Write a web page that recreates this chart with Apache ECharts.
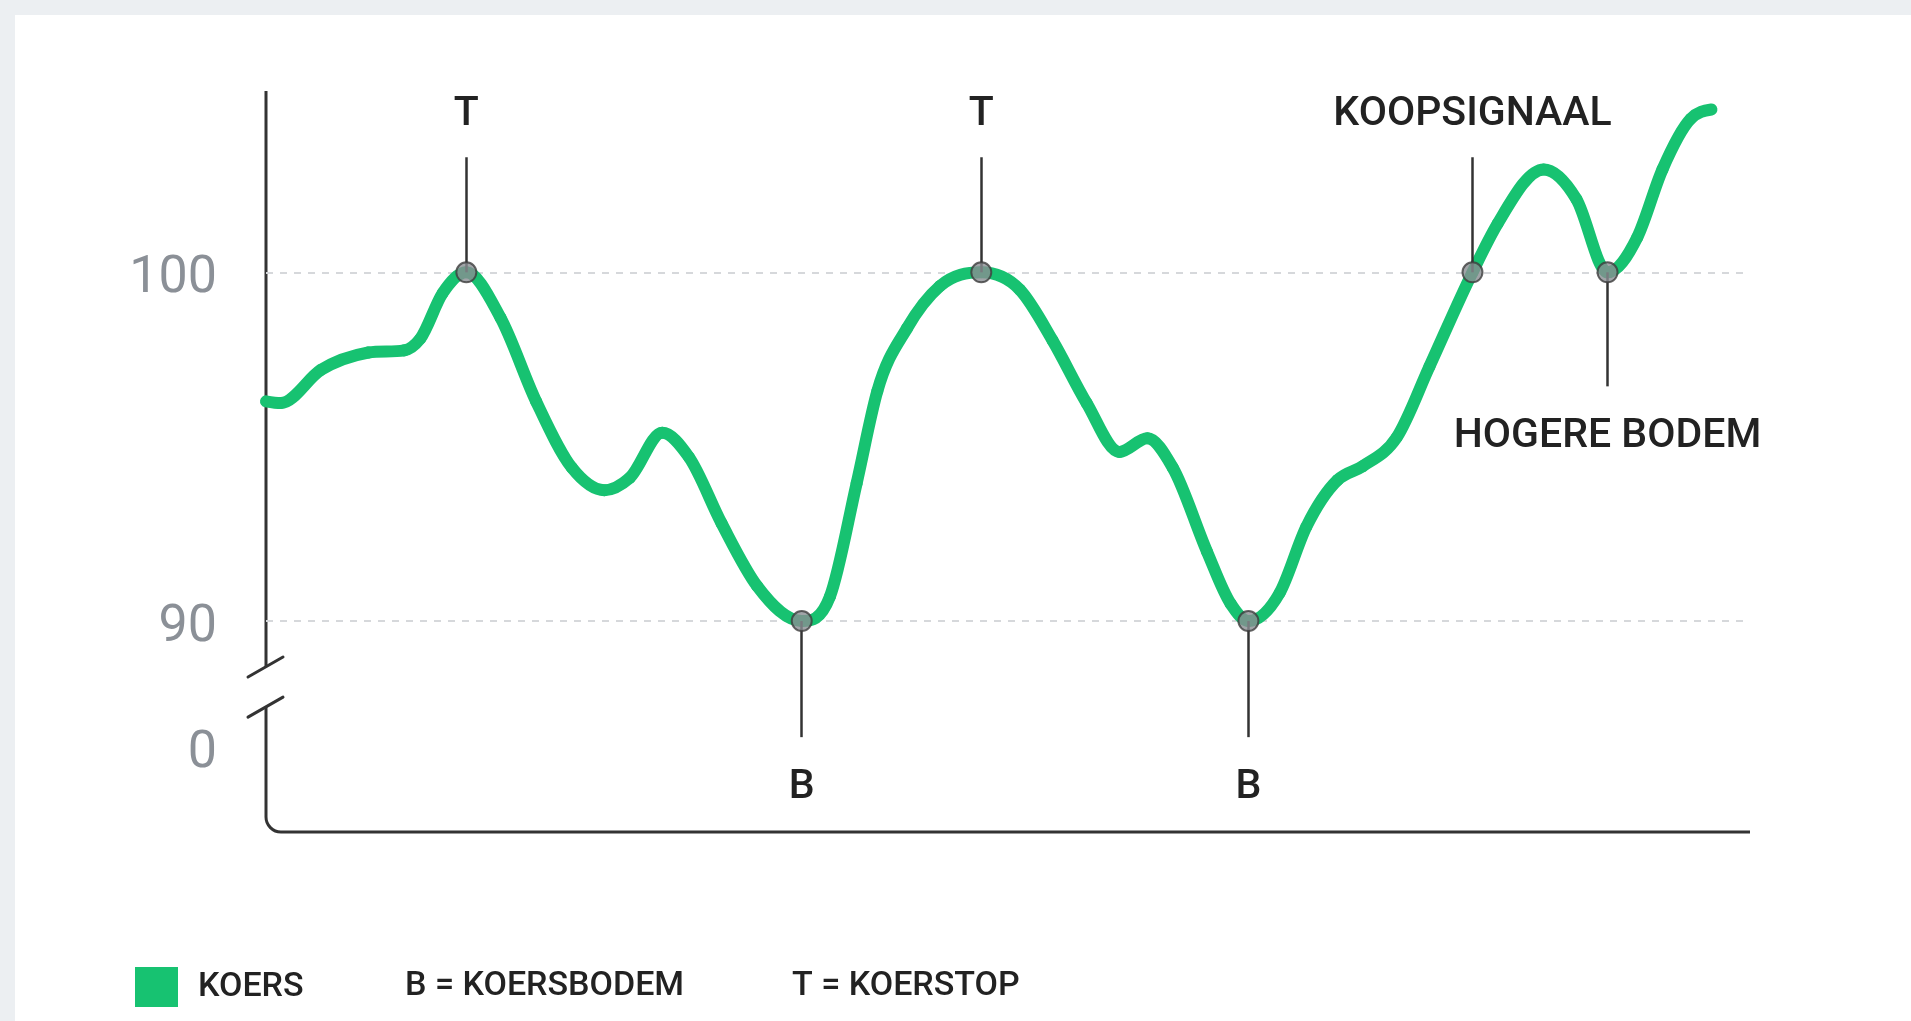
<!DOCTYPE html>
<html>
<head>
<meta charset="utf-8">
<script src="https://cdn.jsdelivr.net/npm/echarts@6/dist/echarts.min.js"></script>
<style>
html,body{margin:0;padding:0;background:#eceff2;overflow:hidden;}
#card{position:absolute;left:15px;top:15px;right:0;bottom:0;background:#ffffff;}
#c{position:absolute;left:0;top:0;width:1911px;height:1021px;}
</style>
</head>
<body>
<div id="card"></div>
<div id="c"></div>
<script>
// ---- data ----
const days = [0, 1, 3.7, 6.9, 9.3, 10.4, 11.9, 13.5, 15.8, 18.2, 20.6, 22.8, 24.5, 26.7, 28.5, 30.7, 33.1, 36.1,
  38.0, 39.8, 41.2, 43.2, 45.4, 48.2, 50.8, 53.0, 55.3, 57.5, 59.4, 61.1, 63.4, 65.0, 66.2,
  68.3, 70.1, 72.2, 73.9, 76.2, 78.4, 81.3, 83.0, 86.1, 88.3, 90.4, 92.4, 94.1, 96.0, 97.4];
const koers = [96.3, 96.25, 97.2, 97.7, 97.76, 98.1, 99.4, 100, 98.7, 96.3, 94.4, 93.75, 94.1, 95.4, 94.7, 92.8, 91.0, 90,
  90.7, 93.95, 96.6, 98.4, 99.6, 100, 99.5, 98.05, 96.25, 94.85, 95.24, 94.4, 92.0, 90.5, 90,
  90.8, 92.7, 94.04, 94.44, 95.27, 97.3, 100, 101.4, 102.95, 102.1, 100, 101.0, 102.95, 104.4, 104.67];
const signalDays = [13.5, 36.1, 48.2, 66.2, 81.3, 90.4];
const signalValues = [100, 90, 100, 90, 100, 100];
const signalLabels = ['T', 'B', 'T', 'B', 'KOOPSIGNAAL', 'HOGERE BODEM'];
const signalEnds = [103.3, 86.67, 103.3, 86.67, 103.3, 96.73];
const gridValues = [100, 90];
const yTickValues = [86.38, 90, 100];
const yTickLabels = ['0', '90', '100'];
const seriesName = 'KOERS';
const legendNotes = ['B = KOERSBODEM', 'T = KOERSTOP'];
const axisRange = { yMin: 83.95, yMax: 105.2, xMin: 0, xMax: 100, breakTop: 88.68, breakBottom: 87.53 };

(function () {
const GREEN = '#17c271';
const FONT = 'Roboto, "Noto Sans", sans-serif';
const n = days.length;

const chart = echarts.init(document.getElementById('c'), null, { renderer: 'canvas' });

// smooth cubic tangents (pixel space): flat at local extremes, no overshoot elsewhere
function tangents(pts) {
  const m = new Array(pts.length).fill(0);
  const s = [], h = [];
  for (let i = 0; i < pts.length - 1; i++) {
    h[i] = pts[i + 1][0] - pts[i][0];
    s[i] = (pts[i + 1][1] - pts[i][1]) / h[i];
  }
  for (let i = 1; i < pts.length - 1; i++) {
    const s0 = s[i - 1], s1 = s[i];
    if (s0 * s1 <= 0) { m[i] = 0; continue; }
    const p = (s0 * h[i] + s1 * h[i - 1]) / (h[i - 1] + h[i]);
    const lim = 3 * Math.min(Math.abs(s0), Math.abs(s1));
    m[i] = Math.sign(p) * Math.min(Math.abs(p), lim);
  }
  m[0] = (3 * s[0] - m[1]) / 2;
  const L = pts.length - 1;
  m[L] = (3 * s[L - 1] - m[L - 1]) / 2;
  return m;
}

function renderKoers(params, api) {
  const i = params.dataIndex;
  if (i >= n - 1) return null;
  const pts = days.map(function (d, j) { return api.coord([d, koers[j]]); });
  const m = tangents(pts);
  const p0 = pts[i], p1 = pts[i + 1];
  const hh = (p1[0] - p0[0]) / 3;
  return {
    type: 'bezierCurve',
    shape: {
      x1: p0[0], y1: p0[1],
      cpx1: p0[0] + hh, cpy1: p0[1] + m[i] * hh,
      cpx2: p1[0] - hh, cpy2: p1[1] - m[i + 1] * hh,
      x2: p1[0], y2: p1[1]
    },
    style: { stroke: GREEN, lineWidth: 12, lineCap: 'round', fill: 'none' },
    silent: true
  };
}

const option = {
  backgroundColor: 'transparent',
  animation: false,
  grid: { left: 266, right: 161, top: 91, bottom: 189, containLabel: false },
  xAxis: {
    type: 'value', min: axisRange.xMin, max: axisRange.xMax,
    axisLine: { show: false }, axisTick: { show: false }, axisLabel: { show: false }, splitLine: { show: false }
  },
  yAxis: {
    type: 'value', min: axisRange.yMin, max: axisRange.yMax,
    axisLine: { show: false }, axisTick: { show: false }, splitLine: { show: false },
    axisLabel: {
      customValues: yTickValues,
      formatter: function (v) {
        let best = 0;
        yTickValues.forEach(function (t, i) { if (Math.abs(t - v) < Math.abs(yTickValues[best] - v)) best = i; });
        return '{a|' + yTickLabels[best] + '}';
      },
      rich: { a: { fontSize: 52, color: '#8b9097', fontFamily: FONT, padding: [14, 0, 0, 0] } },
      fontSize: 52, color: '#8b9097', margin: 49, fontFamily: FONT
    }
  },
  legend: {
    data: [seriesName],
    left: 130, top: 962,
    itemWidth: 43, itemHeight: 40,
    icon: 'rect',
    itemStyle: { color: GREEN },
    textStyle: { fontSize: 34, color: '#222', fontFamily: FONT, fontWeight: 500, padding: [0, 0, 0, 15] }
  },
  series: [
    {
      name: seriesName,
      type: 'custom',
      coordinateSystem: 'cartesian2d',
      data: days.map(function (d, i) { return [d, koers[i]]; }),
      encode: { x: 0, y: 1 },
      renderItem: renderKoers,
      z: 2,
      itemStyle: { color: GREEN },
      markLine: {
        silent: true, symbol: 'none', z: 1,
        label: { show: false },
        lineStyle: { color: '#d6d8db', width: 2, type: [7, 7] },
        data: gridValues.map(function (v) { return { yAxis: v }; })
      }
    },
    {
      name: 'signalen',
      type: 'scatter',
      data: signalDays.map(function (d, i) { return [d, signalValues[i]]; }),
      symbol: 'circle',
      symbolSize: 20,
      z: 10,
      itemStyle: { color: '#898d92', borderColor: '#3d3d3d', borderWidth: 2 },
      markLine: {
        silent: true, symbol: 'none', z: 3,
        lineStyle: { color: '#333333', width: 2.5, type: 'solid' },
        label: {
          show: true, position: 'end', distance: 22,
          fontSize: 41, color: '#222222', fontFamily: FONT, fontWeight: 500,
          formatter: function (p) { return p.name; }
        },
        data: signalDays.map(function (d, i) {
          const down = signalEnds[i] < signalValues[i];
          return [
            { name: signalLabels[i], coord: [d, signalValues[i]], label: { distance: down ? 30 : 22 } },
            { coord: [d, signalEnds[i]] }
          ];
        })
      }
    }
  ]
};

chart.setOption(option);

function px(x, y) { return chart.convertToPixel({ gridIndex: 0 }, [x, y]); }

const pTop = px(axisRange.xMin, axisRange.yMax);
const b1 = px(axisRange.xMin, axisRange.breakTop);
const b2 = px(axisRange.xMin, axisRange.breakBottom);
const pBot = px(axisRange.xMin, axisRange.yMin);
const pRight = px(axisRange.xMax, axisRange.yMin);
const x0 = pTop[0], r = 15;
const AX = '#333333';
const axStyle = { stroke: AX, lineWidth: 3, fill: null };

chart.setOption({
  graphic: [
    { type: 'line', shape: { x1: x0, y1: pTop[1], x2: x0, y2: b1[1] }, style: axStyle, silent: true },
    { type: 'line', shape: { x1: x0, y1: b2[1], x2: x0, y2: pBot[1] - r }, style: axStyle, silent: true },
    { type: 'arc', shape: { cx: x0 + r, cy: pBot[1] - r, r: r, startAngle: Math.PI / 2, endAngle: Math.PI, clockwise: true }, style: axStyle, silent: true },
    { type: 'line', shape: { x1: x0 + r, y1: pBot[1], x2: pRight[0], y2: pBot[1] }, style: axStyle, silent: true },
    { type: 'line', shape: { x1: x0 - 18, y1: b1[1] + 10, x2: x0 + 17, y2: b1[1] - 10 }, style: { stroke: AX, lineWidth: 3, lineCap: 'round' }, silent: true },
    { type: 'line', shape: { x1: x0 - 18, y1: b2[1] + 10, x2: x0 + 17, y2: b2[1] - 10 }, style: { stroke: AX, lineWidth: 3, lineCap: 'round' }, silent: true },
    { type: 'text', left: 405, top: 969, style: { text: legendNotes[0], fontSize: 34, fontWeight: 500, fill: '#222', fontFamily: FONT }, silent: true },
    { type: 'text', left: 792, top: 969, style: { text: legendNotes[1], fontSize: 34, fontWeight: 500, fill: '#222', fontFamily: FONT }, silent: true }
  ]
});
})();
</script>
</body>
</html>
